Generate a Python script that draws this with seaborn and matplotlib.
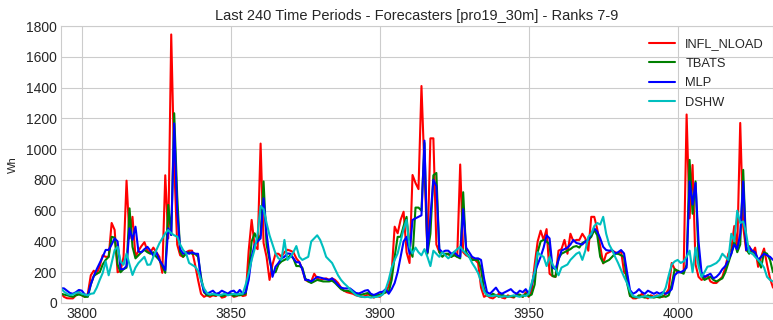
import numpy as np
import pandas as pd
import matplotlib
matplotlib.use("Agg")
import matplotlib.pyplot as plt
import seaborn as sns

start = 3793
periods = list(range(start, start + 240))

infl_nload = [
    63, 40, 31, 30, 30, 50, 74, 50, 40, 60,
    180, 210, 190, 240, 310, 300, 300, 520, 475, 200,
    210, 300, 795, 420, 560, 300, 340, 370, 395, 340,
    330, 360, 330, 300, 196, 830, 420, 1745, 900, 380,
    310, 300, 330, 340, 340, 250, 150, 60, 40, 50,
    40, 50, 45, 60, 35, 40, 60, 55, 40, 45,
    60, 45, 50, 340, 540, 370, 350, 1036, 390, 300,
    150, 250, 320, 320, 300, 330, 346, 340, 330, 290,
    266, 220, 150, 140, 140, 190, 160, 150, 155, 160,
    150, 160, 150, 130, 100, 80, 70, 65, 60, 50,
    45, 40, 45, 55, 50, 35, 45, 40, 60, 70,
    110, 200, 496, 453, 540, 593, 330, 260, 832, 780,
    740, 1410, 870, 330, 1070, 1070, 380, 330, 330, 310,
    320, 300, 320, 300, 900, 330, 310, 300, 290, 280,
    260, 100, 40, 50, 35, 30, 45, 60, 35, 30,
    50, 40, 35, 60, 50, 40, 70, 40, 80, 250,
    400, 470, 410, 480, 190, 175, 170, 340, 350, 410,
    320, 450, 400, 410, 410, 450, 420, 340, 560, 560,
    480, 370, 257, 320, 330, 340, 330, 320, 340, 200,
    180, 50, 30, 30, 40, 60, 40, 30, 50, 40,
    50, 40, 40, 60, 90, 260, 220, 200, 200, 200,
    1225, 550, 897, 250, 170, 150, 160, 180, 140, 130,
    130, 150, 170, 230, 320, 350, 500, 360, 1170, 495,
    340, 370, 320, 360, 235, 300, 354, 250, 160, 100,
]

tbats = [
    60, 55, 50, 45, 40, 50, 55, 50, 40, 40,
    120, 175, 190, 200, 250, 280, 300, 430, 425, 250,
    200, 220, 230, 615, 365, 290, 310, 330, 345, 330,
    320, 330, 300, 280, 240, 196, 637, 442, 1233, 700,
    330, 300, 320, 330, 320, 320, 300, 170, 70, 50,
    50, 55, 50, 55, 45, 50, 55, 60, 45, 50,
    50, 55, 60, 200, 400, 453, 410, 440, 790, 380,
    280, 200, 200, 250, 270, 280, 290, 310, 290, 240,
    240, 230, 160, 140, 130, 140, 150, 145, 140, 140,
    140, 145, 130, 110, 90, 80, 80, 75, 70, 55,
    50, 55, 60, 65, 50, 45, 50, 55, 60, 70,
    70, 150, 300, 430, 430, 500, 560, 350, 300, 620,
    620, 600, 1040, 320, 450, 830, 845, 330, 300, 320,
    320, 300, 310, 300, 290, 720, 330, 300, 280, 280,
    280, 220, 90, 50, 45, 60, 50, 40, 55, 45,
    40, 45, 40, 50, 55, 40, 60, 45, 55, 120,
    330, 400, 410, 400, 380, 175, 170, 290, 320, 330,
    340, 350, 365, 370, 360, 390, 400, 410, 430, 475,
    440, 300, 260, 270, 280, 300, 320, 320, 310, 300,
    130, 45, 40, 35, 50, 40, 35, 50, 40, 35,
    40, 35, 45, 40, 50, 120, 220, 210, 200, 190,
    250, 930, 580, 790, 300, 180, 150, 160, 170, 150,
    140, 150, 160, 200, 260, 320, 400, 330, 380, 865,
    350, 320, 340, 320, 280, 230, 330, 320, 280, 200,
]

mlp = [
    95, 95, 80, 65, 60, 70, 85, 80, 55, 50,
    120, 175, 220, 260, 300, 345, 345, 380, 420, 400,
    220, 220, 240, 485, 410, 496, 334, 330, 350, 365,
    340, 306, 330, 280, 250, 214, 485, 442, 1167, 600,
    350, 320, 330, 320, 330, 320, 320, 150, 75, 60,
    70, 80, 60, 65, 80, 70, 60, 75, 80, 60,
    85, 60, 70, 150, 300, 380, 400, 420, 680, 450,
    300, 170, 236, 260, 290, 300, 322, 320, 290, 265,
    265, 220, 150, 150, 140, 155, 170, 165, 160, 155,
    150, 160, 140, 117, 100, 95, 95, 95, 80, 65,
    62, 70, 80, 84, 60, 52, 60, 70, 73, 90,
    60, 90, 130, 200, 300, 400, 430, 320, 540, 550,
    560, 570, 1055, 330, 560, 800, 760, 350, 330, 340,
    340, 320, 330, 310, 300, 610, 360, 330, 300, 290,
    290, 280, 160, 70, 60, 80, 100, 70, 60, 70,
    80, 90, 70, 60, 80, 70, 90, 60, 120, 200,
    250, 300, 360, 440, 420, 230, 220, 280, 340, 350,
    360, 380, 410, 390, 385, 380, 400, 410, 450, 485,
    465, 420, 365, 344, 340, 344, 322, 330, 344, 322,
    200, 84, 60, 70, 90, 70, 60, 80, 70, 60,
    70, 60, 70, 60, 70, 90, 180, 200, 200, 210,
    230, 790, 640, 780, 400, 200, 170, 180, 190, 160,
    170, 190, 220, 240, 280, 320, 380, 350, 450, 790,
    344, 365, 340, 330, 280, 300, 320, 310, 300, 280,
]

dshw = [
    95, 74, 60, 52, 55, 65, 70, 60, 55, 50,
    60, 63, 100, 150, 195, 270, 180, 260, 344, 365,
    270, 248, 322, 250, 182, 230, 260, 280, 300, 248,
    250, 300, 344, 387, 420, 453, 474, 453, 440, 431,
    380, 344, 322, 260, 248, 236, 210, 150, 95, 65,
    55, 60, 55, 50, 55, 60, 50, 55, 60, 55,
    60, 60, 120, 193, 280, 350, 450, 630, 610, 520,
    440, 380, 322, 290, 280, 410, 280, 300, 330, 370,
    300, 280, 290, 300, 400, 420, 440, 410, 360, 300,
    280, 260, 220, 180, 150, 128, 110, 90, 70, 52,
    45, 40, 38, 40, 35, 38, 40, 45, 55, 90,
    150, 230, 280, 322, 400, 480, 540, 365, 322, 360,
    330, 310, 350, 300, 240, 340, 320, 300, 330, 310,
    290, 310, 333, 350, 365, 340, 320, 300, 260, 230,
    195, 140, 75, 50, 45, 45, 50, 45, 40, 45,
    40, 45, 50, 45, 40, 50, 45, 60, 130, 200,
    330, 310, 300, 240, 300, 250, 220, 180, 230, 240,
    250, 280, 300, 320, 330, 280, 340, 430, 450, 500,
    520, 510, 560, 450, 380, 344, 300, 260, 214, 170,
    130, 75, 45, 40, 35, 40, 45, 40, 35, 40,
    45, 50, 60, 100, 180, 250, 270, 280, 260, 270,
    300, 340, 200, 360, 240, 170, 200, 236, 240, 250,
    260, 280, 320, 300, 280, 450, 400, 600, 520, 530,
    450, 330, 322, 300, 280, 260, 230, 170, 150, 140,
]

names = ["INFL_NLOAD", "TBATS", "MLP", "DSHW"]
colors = ["#ff0000", "#008000", "#0000ff", "#00bfbf"]
xticks = [3800, 3850, 3900, 3950, 4000]
yticks = [0, 200, 400, 600, 800, 1000, 1200, 1400, 1600, 1800]

sns.set_style("whitegrid", {"axes.edgecolor": ".8", "grid.color": ".8",
                            "axes.linewidth": 1.0})
plt.rcParams["font.family"] = ["Liberation Sans", "DejaVu Sans"]

fig = plt.figure(figsize=(7.73, 3.2), dpi=100)
ax = fig.add_axes([61 / 773, 17 / 320, 1 - 61 / 773, (303 - 26) / 320])

df = pd.DataFrame({"t": periods, "INFL_NLOAD": infl_nload, "TBATS": tbats,
                   "MLP": mlp, "DSHW": dshw})
for name, col in zip(names, colors):
    sns.lineplot(x=df["t"], y=df[name], color=col, label=name, lw=1.5, ax=ax)

ax.set_xlim(start, start + 239)
ax.set_ylim(0, 1800)
ax.set_xticks(xticks)
ax.set_yticks(yticks)
ax.set_xlabel("")
ax.set_ylabel("Wh", fontsize=8, color="#262626", labelpad=6)
ax.tick_params(axis="both", labelsize=10, colors="#262626", length=0, pad=3)
ax.set_title("Last 240 Time Periods - Forecasters [pro19_30m] - Ranks 7-9",
             fontsize=10.5, color="#262626", pad=4)
leg = ax.legend(loc="upper right", frameon=False, fontsize=9.3,
                handlelength=2.0, borderaxespad=0.3, labelspacing=0.58,
                handletextpad=0.8, bbox_to_anchor=(1.0, 0.988))
for line in leg.get_lines():
    line.set_linewidth(1.5)
for tx in leg.get_texts():
    tx.set_color("#262626")

fig.savefig("out.png", dpi=100)
